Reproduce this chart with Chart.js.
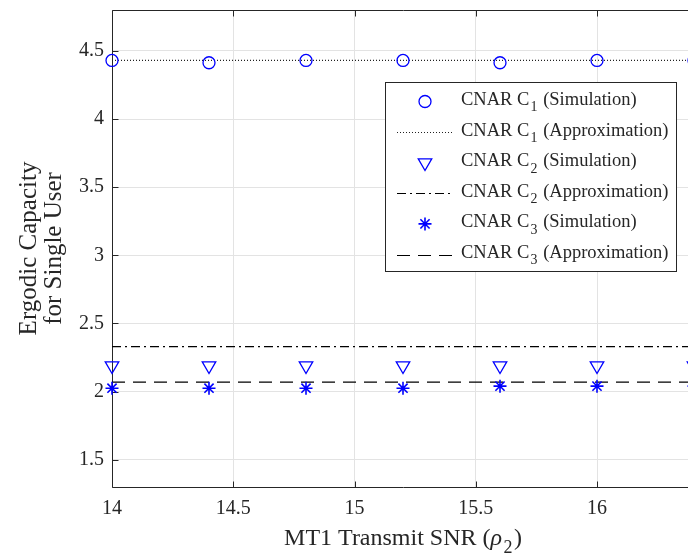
<!DOCTYPE html>
<html>
<head>
<meta charset="utf-8">
<script src="https://cdn.jsdelivr.net/npm/chart.js@4.4.1/dist/chart.umd.min.js"></script>
<style>
  html, body { margin: 0; padding: 0; background: #fff; overflow: hidden; }
  canvas { display: block; }
</style>
</head>
<body>
<canvas id="capacidade" width="740" height="558"></canvas>
<script>
// SNR points and capacity values (simulation markers, approximation curves)
const xValues  = [14, 14.4, 14.8, 15.2, 15.6, 16, 16.4];
const c1Sim    = [4.43, 4.413, 4.43, 4.43, 4.413, 4.43, 4.43];
const c1Approx = [4.43, 4.43, 4.43, 4.43, 4.43, 4.43, 4.43];
const c2Sim    = [2.19, 2.19, 2.19, 2.19, 2.19, 2.19, 2.19];
const c2Approx = [2.33, 2.33, 2.33, 2.33, 2.33, 2.33, 2.33];
const c3Sim    = [2.025, 2.025, 2.025, 2.025, 2.04, 2.04, 2.04];
const c3Approx = [2.07, 2.07, 2.07, 2.07, 2.07, 2.07, 2.07];

const xTicks = [14, 14.5, 15, 15.5, 16];
const yTicks = [1.5, 2, 2.5, 3, 3.5, 4, 4.5];

const FONT = '"Liberation Serif", "Times New Roman", serif';
const INK = '#262626';
const BLUE = '#0000ff';

function pontos(ys) {
    return xValues.map((x, i) => ({ x: x, y: ys[i] }));
}

// split "C_1" / "\rho" style labels into plain, subscript and italic pieces
function splitTex(text) {
    var parts = [];
    var re = /\\rho|_(.)/g, last = 0, m;
    while ((m = re.exec(text)) !== null) {
        if (m.index > last) parts.push({ t: text.slice(last, m.index) });
        if (m[0] === '\\rho') parts.push({ t: 'ρ', italic: true });
        else parts.push({ t: m[1], sub: true });
        last = re.lastIndex;
    }
    if (last < text.length) parts.push({ t: text.slice(last) });
    return parts;
}

function drawTex(ctx, text, x, y, size, align) {
    var parts = splitTex(text);
    var fontOf = p => (p.italic ? 'italic ' : '') + (p.sub ? size * 0.75 : size).toFixed(1) + 'px ' + FONT;
    var w = 0;
    parts.forEach(p => {
        ctx.font = fontOf(p);
        p.w = ctx.measureText(p.t).width + (p.sub ? size * 0.12 : 0);
        w += p.w;
    });
    var cx = align === 'center' ? x - w / 2 : x;
    ctx.textAlign = 'left';
    ctx.textBaseline = 'alphabetic';
    parts.forEach(p => {
        ctx.font = fontOf(p);
        ctx.fillText(p.t, cx + (p.sub ? size * 0.06 : 0), y + (p.sub ? size * 0.35 : 0));
        cx += p.w;
    });
}

function drawMarker(ctx, ds, x, y) {
    if (Chart.helpers && Chart.helpers.drawPoint) {
        ctx.strokeStyle = ds.borderColor;
        ctx.fillStyle = 'rgba(0,0,0,0)';
        ctx.lineWidth = ds.pointBorderWidth;
        Chart.helpers.drawPoint(ctx, {
            pointStyle: ds.pointStyle,
            rotation: ds.pointRotation || 0,
            radius: ds.pointRadius,
            borderWidth: ds.pointBorderWidth
        }, x, y);
    }
}

// box around the axes with inward tick marks, MATLAB style
const moldura = {
    id: 'moldura',
    beforeDatasetsDraw(chart) {
        const ctx = chart.ctx, a = chart.chartArea;
        const xs = chart.scales.x, ys = chart.scales.y;
        const L = Math.round(a.left) + 0.5, R = Math.round(a.right) + 0.5;
        const T = Math.round(a.top) + 0.5, B = Math.round(a.bottom) + 0.5;
        ctx.save();
        ctx.strokeStyle = INK;
        ctx.lineWidth = 1;
        ctx.beginPath();
        ctx.rect(L, T, R - L, B - T);
        xTicks.forEach(v => {
            const px = Math.round(xs.getPixelForValue(v)) + 0.5;
            ctx.moveTo(px, B); ctx.lineTo(px, B - 6);
            ctx.moveTo(px, T); ctx.lineTo(px, T + 6);
        });
        yTicks.forEach(v => {
            const py = Math.round(ys.getPixelForValue(v)) + 0.5;
            ctx.moveTo(L, py); ctx.lineTo(L + 6, py);
            ctx.moveTo(R, py); ctx.lineTo(R - 6, py);
        });
        ctx.stroke();
        ctx.restore();
    },
    afterDraw(chart) {
        const ctx = chart.ctx, a = chart.chartArea;
        ctx.save();
        ctx.fillStyle = INK;
        drawTex(ctx, 'MT1 Transmit SNR (\\rho_2)', (a.left + a.right) / 2, 545, 24, 'center');
        ctx.translate(0, (a.top + a.bottom) / 2);
        ctx.rotate(-Math.PI / 2);
        drawTex(ctx, 'Ergodic Capacity', 0, 36, 25, 'center');
        drawTex(ctx, 'for Single User', 0, 61, 25, 'center');
        ctx.restore();
    }
};

// legend box drawn from the datasets, with subscripts in the labels
const legenda = {
    id: 'legenda',
    afterDraw(chart) {
        const ctx = chart.ctx;
        const box = { left: 385, top: 82, right: 676, bottom: 271 };
        ctx.save();
        ctx.fillStyle = '#fff';
        ctx.fillRect(box.left, box.top, box.right - box.left, box.bottom - box.top);
        ctx.strokeStyle = INK;
        ctx.lineWidth = 1;
        ctx.strokeRect(box.left + 0.5, box.top + 0.5, box.right - box.left, box.bottom - box.top);
        chart.data.datasets.forEach((ds, i) => {
            const base = 105 + 30.6 * i;
            const ym = base - 3.5;
            if (ds.showLine) {
                ctx.strokeStyle = ds.borderColor;
                ctx.lineWidth = ds.borderWidth;
                ctx.setLineDash(ds.borderDash || []);
                ctx.beginPath();
                ctx.moveTo(397, Math.round(ym) + 0.5);
                ctx.lineTo(453, Math.round(ym) + 0.5);
                ctx.stroke();
                ctx.setLineDash([]);
            } else {
                drawMarker(ctx, ds, 425, ym);
            }
            ctx.fillStyle = INK;
            drawTex(ctx, ds.label, 461, base, 18.5, 'left');
        });
        ctx.restore();
    }
};

function serieMarcador(label, ys, style, radius, rotation, width) {
    return {
        label: label,
        data: pontos(ys),
        showLine: false,
        borderColor: BLUE,
        backgroundColor: 'rgba(0,0,0,0)',
        pointStyle: style,
        pointRadius: radius,
        pointRotation: rotation || 0,
        pointBorderWidth: width || 1.3,
        pointBorderColor: BLUE,
        pointBackgroundColor: 'rgba(0,0,0,0)',
        clip: false
    };
}

function serieLinha(label, ys, dash, color) {
    return {
        label: label,
        data: pontos(ys),
        showLine: true,
        borderColor: color,
        borderWidth: 1.2,
        borderDash: dash,
        pointRadius: 0,
        tension: 0,
        fill: false
    };
}

// fixed axis box: no extra room reserved for the end labels
function semPadding(s) {
    s.paddingTop = 0;
    s.paddingBottom = 0;
    s.paddingLeft = 0;
    s.paddingRight = 0;
}

function montaGrafico() {
    var ctx = document.getElementById('capacidade');
    new Chart(ctx, {
        type: 'line',
        data: {
            datasets: [
                serieMarcador('CNAR C_1 (Simulation)', c1Sim, 'circle', 6),
                serieLinha('CNAR C_1 (Approximation)', c1Approx, [1, 2], '#222'),
                serieMarcador('CNAR C_2 (Simulation)', c2Sim, 'triangle', 7.8, 180),
                serieLinha('CNAR C_2 (Approximation)', c2Approx, [9, 4, 2, 4], '#000'),
                serieMarcador('CNAR C_3 (Simulation)', c3Sim, 'star', 6.5, 0, 1.6),
                serieLinha('CNAR C_3 (Approximation)', c3Approx, [13, 8], '#000')
            ]
        },
        options: {
            responsive: false,
            animation: false,
            devicePixelRatio: 1,
            layout: { padding: { left: 0, top: 10, right: 46, bottom: 0 } },
            plugins: {
                legend: { display: false },
                tooltip: { enabled: false }
            },
            scales: {
                x: {
                    type: 'linear',
                    min: 14,
                    max: 16.4,
                    afterFit: s => { s.height = 71; semPadding(s); },
                    afterBuildTicks: s => { s.ticks = xTicks.map(v => ({ value: v })); },
                    grid: { color: '#e3e3e3', drawTicks: false },
                    border: { display: false },
                    ticks: { color: INK, padding: 10, font: { family: FONT, size: 20 }, callback: v => String(v) }
                },
                y: {
                    type: 'linear',
                    min: 1.3,
                    max: 4.8,
                    afterFit: s => { s.width = 112; semPadding(s); },
                    afterBuildTicks: s => { s.ticks = yTicks.map(v => ({ value: v })); },
                    grid: { color: '#e3e3e3', drawTicks: false },
                    border: { display: false },
                    ticks: { color: INK, padding: 8, font: { family: FONT, size: 20 }, callback: v => String(v) }
                }
            }
        },
        plugins: [moldura, legenda]
    });
}

montaGrafico();
</script>
</body>
</html>
